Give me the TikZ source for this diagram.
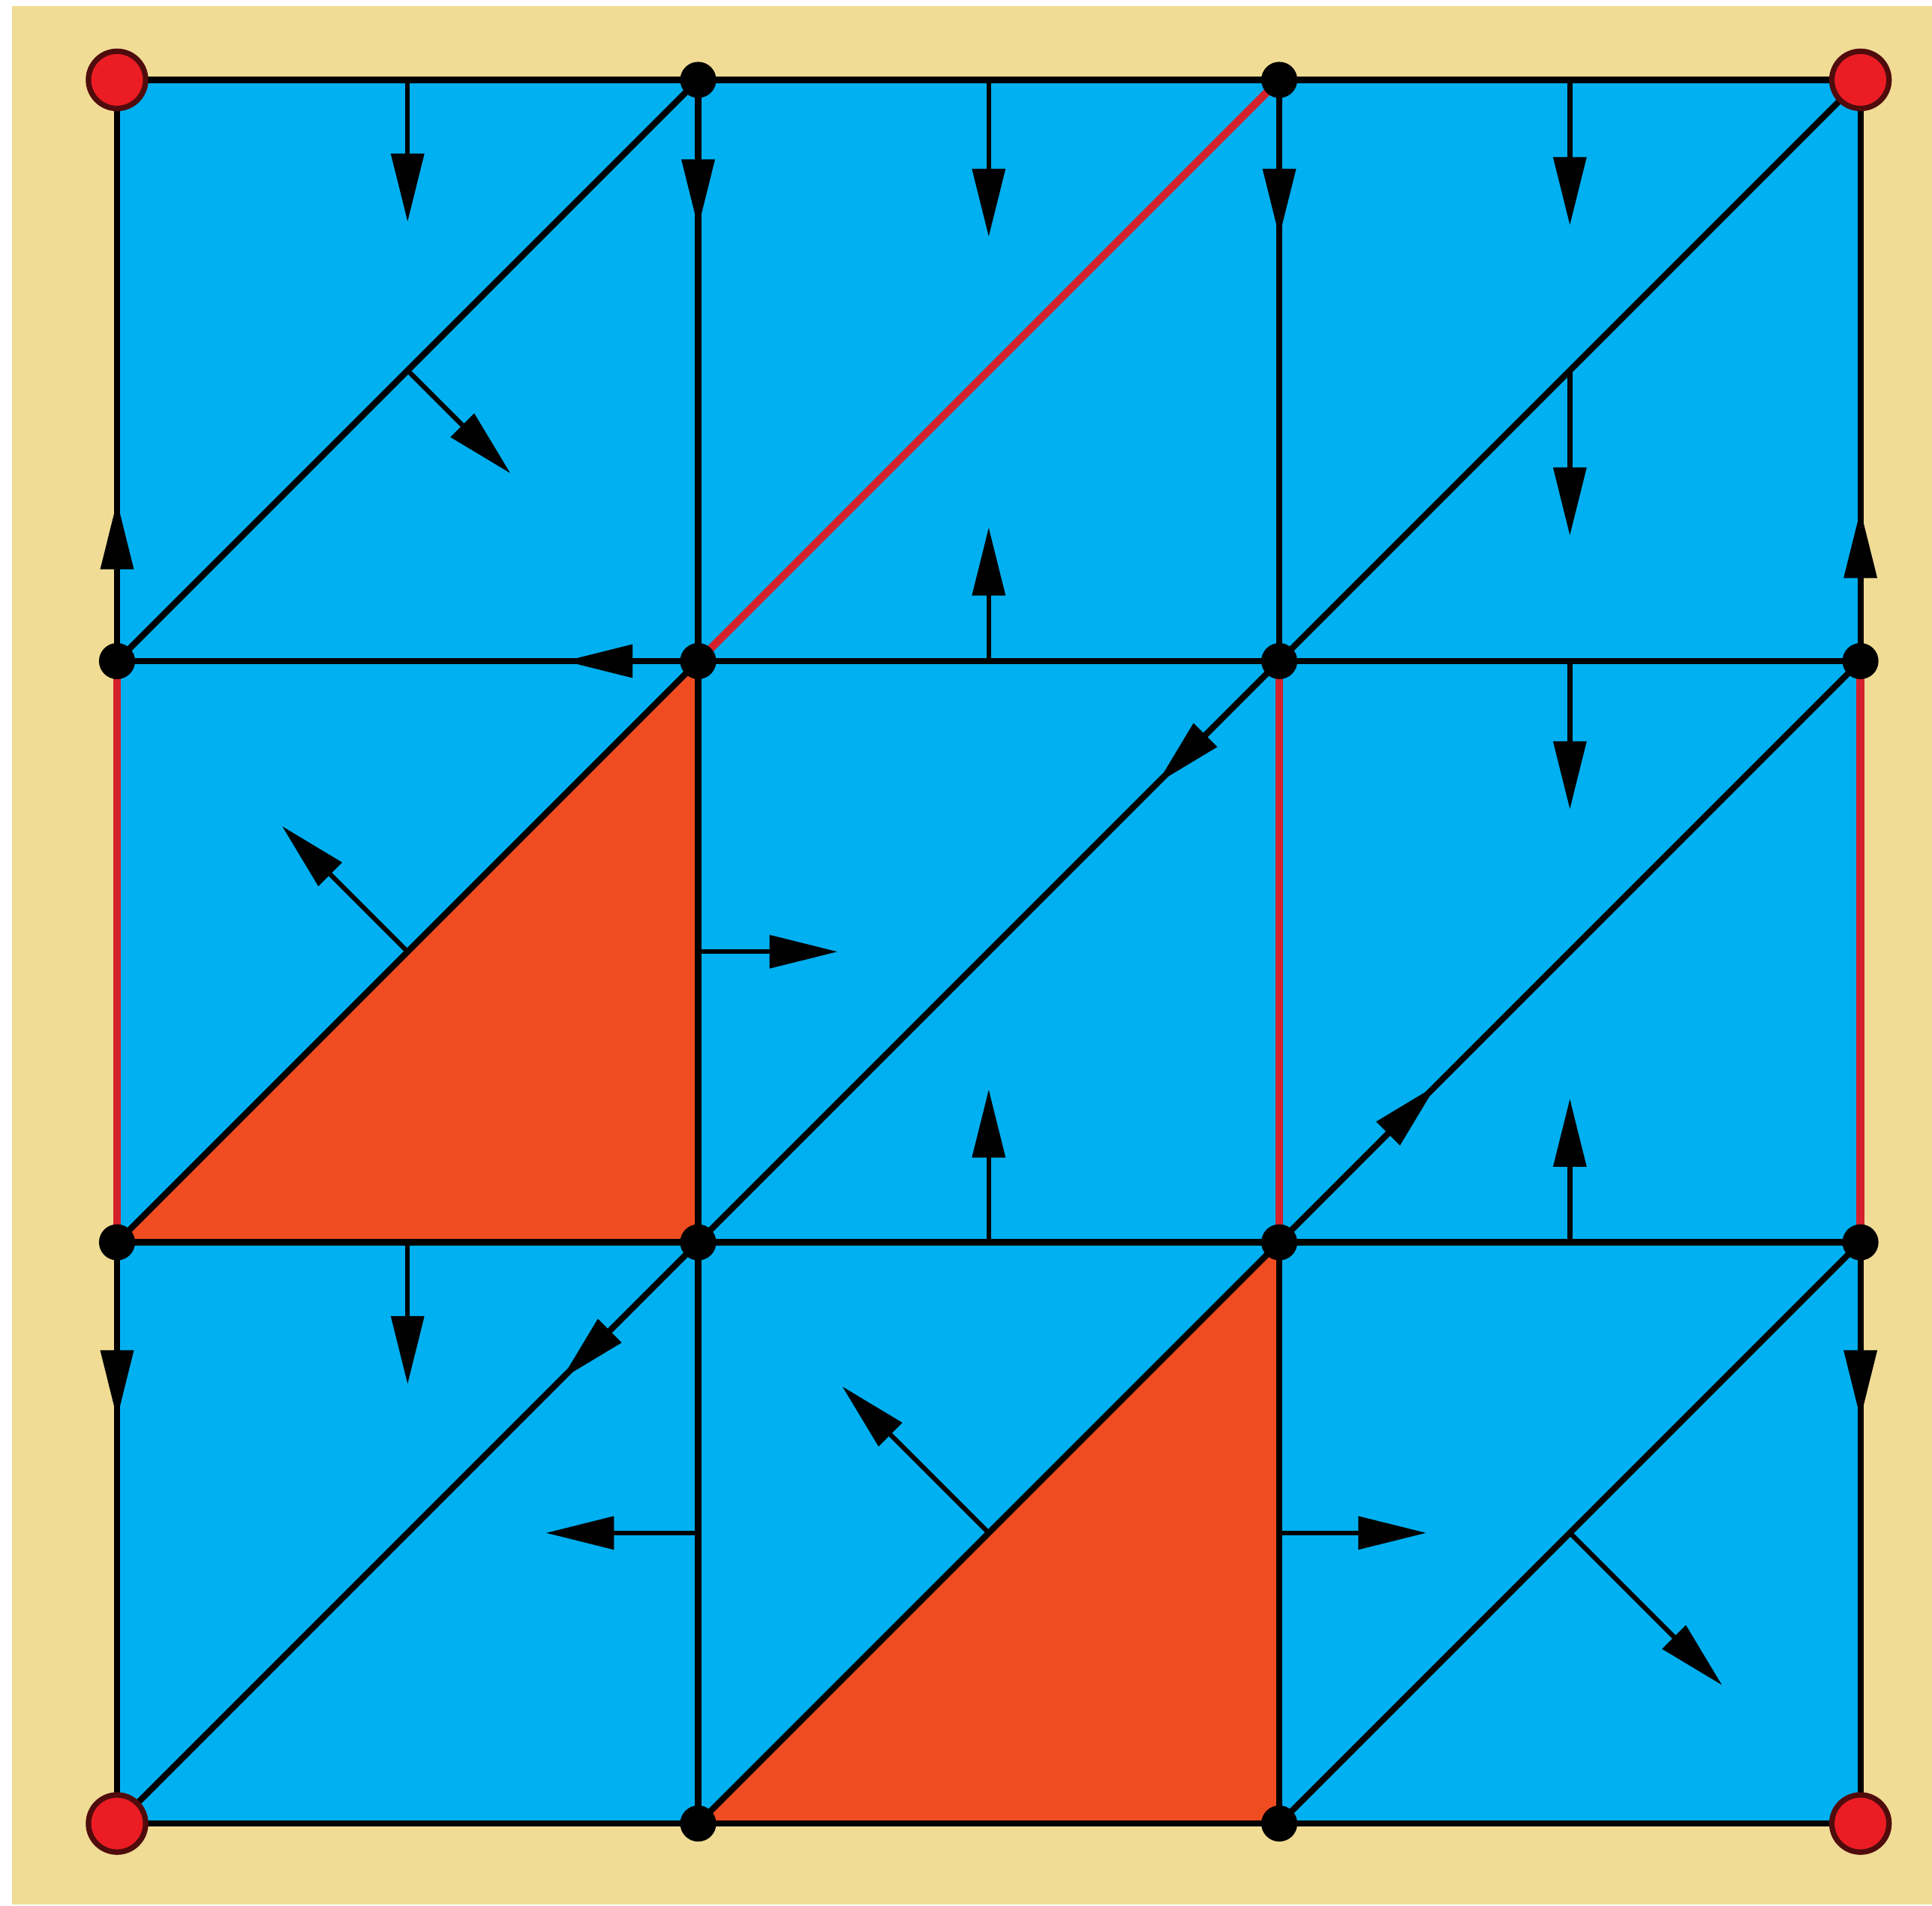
\documentclass[tikz,border=0pt]{standalone}
\usetikzlibrary{arrows.meta,calc}
\definecolor{sand}{RGB}{241,220,150}
\definecolor{sky}{RGB}{0,176,240}
\definecolor{flame}{RGB}{240,76,34}
\definecolor{edgered}{RGB}{212,34,44}
\definecolor{dotred}{RGB}{236,28,36}
\definecolor{ringdark}{RGB}{80,12,12}

\begin{document}
\begin{tikzpicture}[
    x=6cm,y=6cm,
    mesh/.style={draw=black,line width=1.8pt,line cap=round},
    hot/.style={draw=edgered,line width=2.3pt},
    normal/.style={-{Triangle[length=20pt,width=9.5pt]},line width=1.4pt,black},
    vtx/.style={circle,fill=black,inner sep=0pt,minimum size=10.6pt},
    corner/.style={circle,fill=dotred,draw=ringdark,line width=1.6pt,
                   inner sep=0pt,minimum size=16.8pt}
  ]
    \fill[white] (-0.2014,-0.1407) rectangle (3.1232,3.1375);
    \useasboundingbox (-0.2014,-0.1407) rectangle (3.1232,3.1375);
    \fill[sand] (-0.181,-0.139) rectangle (3.1232,3.127);

    % mesh vertices
    \foreach \i in {0,...,3}
      \foreach \j in {0,...,3}
        \coordinate (v\i\j) at (\i,\j);

    \fill[sky] (v00) rectangle (v33);
    \fill[flame] (v01) -- (v11) -- (v12) -- cycle;
    \fill[flame] (v10) -- (v20) -- (v21) -- cycle;

    % grid lines and diagonals
    \foreach \k in {0,...,3} {
      \draw[mesh] (v\k0) -- (v\k3);
      \draw[mesh] (v0\k) -- (v3\k);
    }
    \foreach \i in {0,1,2}
      \foreach \j in {0,1,2} {
        \pgfmathtruncatemacro\ii{\i+1}
        \pgfmathtruncatemacro\jj{\j+1}
        \draw[mesh] (v\i\j) -- (v\ii\jj);
      }

    \draw[hot] (v01) -- (v02);
    \draw[hot] (v21) -- (v22);
    \draw[hot] (v31) -- (v32);
    \draw[hot] (v12) -- (v23);

    % top row
    \draw[normal] ($(v03)!0.5!(v13)$) -- ++(0,-0.244);
    \draw[normal] (v13) -- ++(0,-0.254);
    \draw[normal] ($(v13)!0.5!(v23)$) -- ++(0,-0.27);
    \draw[normal] (v23) -- ++(0,-0.27);
    \draw[normal] ($(v23)!0.5!(v33)$) -- ++(0,-0.25);
    \draw[normal] ($(v02)!0.5!(v13)$) -- ++(0.177,-0.177);
    \draw[normal] (v02) -- ++(0,0.275);
    \draw[normal] ($(v12)!0.5!(v22)$) -- ++(0,0.23);
    \draw[normal] ($(v22)!0.5!(v33)$) -- ++(0,-0.284);
    \draw[normal] (v32) -- ++(0,0.26);

    % middle row
    \draw[normal] (v12) -- ++(-0.23,0);
    \draw[normal] ($(v22)!0.5!(v32)$) -- ++(0,-0.255);
    \draw[normal] (v22) -- ++(-0.21,-0.21);
    \draw[normal] ($(v01)!0.5!(v12)$) -- ++(-0.216,0.216);
    \draw[normal] ($(v11)!0.5!(v12)$) -- ++(0.24,0);
    \draw[normal] ($(v11)!0.5!(v21)$) -- ++(0,0.263);
    \draw[normal] (v21) -- ++(0.27,0.27);
    \draw[normal] ($(v21)!0.5!(v31)$) -- ++(0,0.247);

    % bottom row
    \draw[normal] (v01) -- ++(0,-0.303);
    \draw[normal] ($(v01)!0.5!(v11)$) -- ++(0,-0.244);
    \draw[normal] (v11) -- ++(-0.235,-0.235);
    \draw[normal] ($(v10)!0.5!(v11)$) -- ++(-0.262,0);
    \draw[normal] ($(v10)!0.5!(v21)$) -- ++(-0.252,0.252);
    \draw[normal] ($(v20)!0.5!(v21)$) -- ++(0.253,0);
    \draw[normal] ($(v20)!0.5!(v31)$) -- ++(0.262,-0.262);
    \draw[normal] (v31) -- ++(0,-0.303);

    % vertex dots
    \foreach \i/\j in {1/0,2/0,0/1,1/1,2/1,3/1,0/2,1/2,2/2,3/2,1/3,2/3}
      \node[vtx] (p\i\j) at (v\i\j) {};
    \foreach \i/\j in {0/0,3/0,0/3,3/3}
      \node[corner] (p\i\j) at (v\i\j) {};
\end{tikzpicture}
\end{document}
